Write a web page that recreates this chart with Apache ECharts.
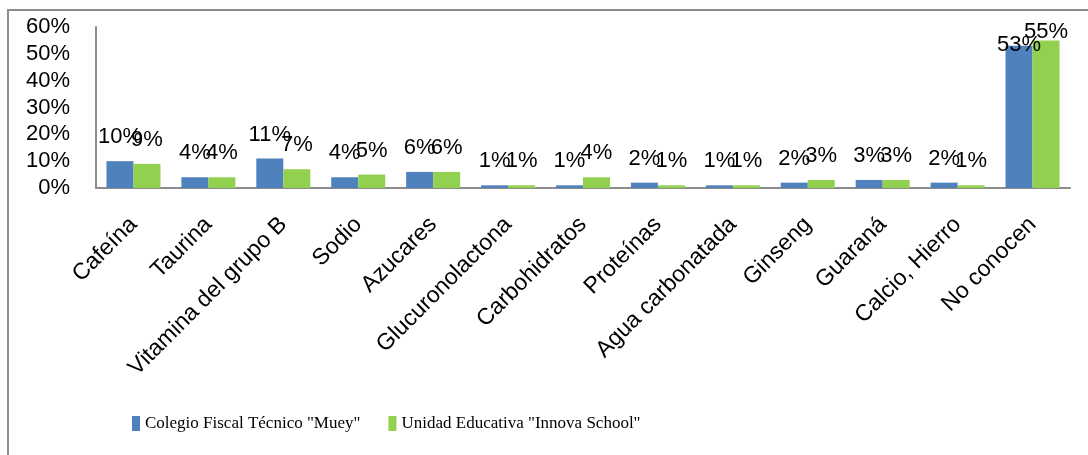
<!DOCTYPE html>
<html>
<head>
<meta charset="utf-8">
<script src="https://cdn.jsdelivr.net/npm/echarts@6/dist/echarts.min.js"></script>
<style>
  html, body { margin: 0; padding: 0; background: #fff; }
  #chart { width: 1088px; height: 455px; }
</style>
</head>
<body>
<div id="chart"></div>
<script>
var categories = ['Cafeína', 'Taurina', 'Vitamina del grupo B', 'Sodio', 'Azucares',
  'Glucuronolactona', 'Carbohidratos', 'Proteínas', 'Agua carbonatada', 'Ginseng',
  'Guaraná', 'Calcio, Hierro', 'No conocen'];
var seriesNames = ['Colegio Fiscal Técnico "Muey"', 'Unidad Educativa "Innova School"'];
var muey = [10, 4, 11, 4, 6, 1, 1, 2, 1, 2, 3, 2, 53];
var innova = [9, 4, 7, 5, 6, 1, 4, 1, 1, 3, 3, 1, 55];
var yTicks = { min: 0, max: 60, interval: 10 };

var myChart = echarts.init(document.getElementById('chart'));

var labelStyle = {
  show: true,
  position: 'top',
  distance: 13,
  formatter: '{c}%',
  fontFamily: 'Liberation Sans',
  fontSize: 22,
  color: '#000'
};

// las etiquetas de las barras altas se bajan para que quepan en el área
function withLabels(values, topDistance) {
  return values.map(function (v, i) {
    if (v > 50) {
      return { value: v, label: { distance: topDistance } };
    }
    return v;
  });
}

myChart.setOption({
  animation: false,
  // marco exterior (solo se ven los bordes izquierdo y superior)
  graphic: [{
    type: 'rect',
    shape: { x: 8, y: 10, width: 1300, height: 800 },
    style: { fill: 'none', stroke: '#8c8c8c', lineWidth: 2 },
    silent: true
  }],
  legend: {
    data: seriesNames,
    left: 127,
    top: 410,
    itemWidth: 8,
    itemHeight: 15,
    itemGap: 28,
    icon: 'rect',
    textStyle: { fontFamily: 'Liberation Serif', fontSize: 17, color: '#000' }
  },
  grid: { left: 96, right: 18, top: 27, bottom: 267 },
  xAxis: {
    type: 'category',
    data: categories,
    axisLine: { lineStyle: { color: '#8c8c8c', width: 2 } },
    axisTick: { show: false },
    axisLabel: {
      rotate: 45,
      margin: 33,
      interval: 0,
      fontFamily: 'Liberation Sans',
      fontSize: 23,
      color: '#000'
    }
  },
  yAxis: {
    type: 'value',
    min: yTicks.min,
    max: yTicks.max,
    interval: yTicks.interval,
    axisLine: { show: true, lineStyle: { color: '#8c8c8c', width: 2 } },
    axisTick: { show: false },
    splitLine: { show: false },
    axisLabel: {
      formatter: '{value}%',
      margin: 26,
      fontFamily: 'Liberation Sans',
      fontSize: 22,
      color: '#000'
    }
  },
  series: [
    {
      name: seriesNames[0],
      type: 'bar',
      data: withLabels(muey, -10),
      barWidth: 27,
      barGap: '0%',
      itemStyle: { color: '#4f81bd' },
      label: labelStyle
    },
    {
      name: seriesNames[1],
      type: 'bar',
      data: withLabels(innova, -3),
      barWidth: 27,
      barGap: '0%',
      itemStyle: { color: '#92d050' },
      label: labelStyle
    }
  ]
});

window.onresize = function () {
  myChart.resize();
};
</script>
</body>
</html>
